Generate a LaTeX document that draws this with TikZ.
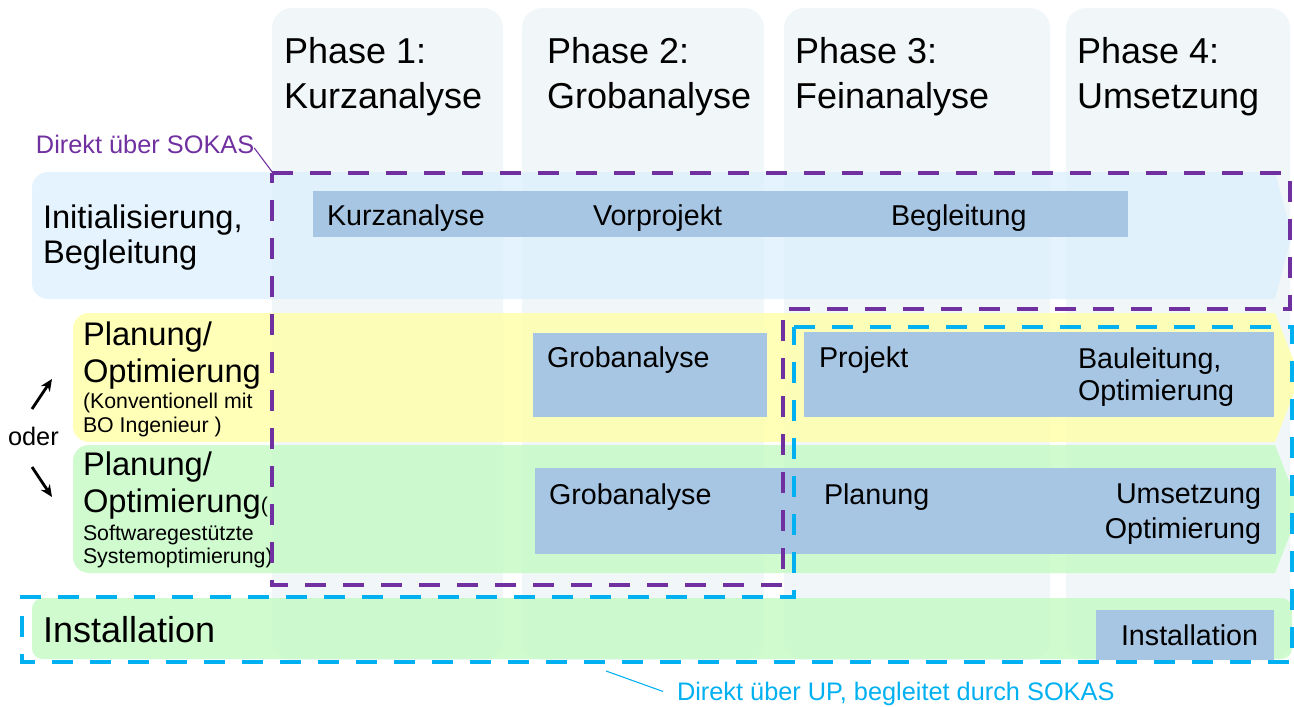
\documentclass[tikz,border=0pt]{standalone}
\usepackage{fontspec}
\setmainfont{Liberation Sans}
\usetikzlibrary{arrows.meta}
\definecolor{colfill}{RGB}{241,247,248}
\definecolor{rowblue}{RGB}{222,240,252}
\definecolor{rowyellow}{RGB}{255,255,168}
\definecolor{rowgreen}{RGB}{196,250,196}
\definecolor{boxblue}{RGB}{167,198,228}
\definecolor{sokas}{RGB}{112,48,160}
\definecolor{upcyan}{RGB}{0,176,240}
\begin{document}
\begin{tikzpicture}[x=0.75pt,y=-0.75pt,
  phasecol/.style={fill=colfill, draw=none, rounded corners=15},
  rowshape/.style={draw=none, fill opacity=0.82},
  bluebox/.style={fill=boxblue, draw=none},
  txt/.style={anchor=base west, inner sep=0, outer sep=0},
  phasetxt/.style={txt, font=\fontsize{27}{32}\selectfont},
  rowtxt/.style={txt, font=\fontsize{24.5}{29}\selectfont},
  bigtxt/.style={txt, font=\fontsize{27}{32}\selectfont},
  boxtxt/.style={txt, font=\fontsize{21.5}{26}\selectfont},
  smalltxt/.style={txt, font=\fontsize{16}{19}\selectfont},
  labeltxt/.style={txt, font=\fontsize{19}{22}\selectfont},
  dashbox/.style={line width=3.4pt, dash pattern=on 15.75pt off 12.75pt},
  oderarrow/.style={line width=2.1pt, -{Stealth[length=9pt,width=8pt]}},
]
\useasboundingbox (0,0) rectangle (1294,706);

% phase columns
\fill[phasecol] (272,8) rectangle (503,660);
\fill[phasecol] (522,8) rectangle (764,660);
\fill[phasecol] (784,8) rectangle (1050,660);
\fill[phasecol] (1066,8) rectangle (1290,660);

% rows
\fill[rowshape, rowblue] (1275,172) -- (1292,235) -- (1275,299)
   [rounded corners=12] -- (32,299) -- (32,172) [sharp corners] -- cycle;
\fill[rowshape, rowyellow] (1275,313) -- (1300,377) -- (1275,442)
   [rounded corners=12] -- (73,442) -- (73,313) [sharp corners] -- cycle;
\fill[rowshape, rowgreen] (1275,445) -- (1300,509) -- (1275,573)
   [rounded corners=12] -- (73,573) -- (73,445) [sharp corners] -- cycle;
\fill[rowshape, rowgreen, rounded corners=8] (32,598) rectangle (1292,659);

% blue boxes
\fill[bluebox] (313,191) rectangle (1128,237);
\fill[bluebox] (533,333) rectangle (767,417);
\fill[bluebox] (804,332) rectangle (1274,417);
\fill[bluebox] (535,468) rectangle (785,554);
\fill[bluebox] (785,468) rectangle (1276,554);
\fill[bluebox] (1096,610) rectangle (1274,660);

% phase headers
\node[phasetxt] (p1a) at (284,64) {Phase 1:};
\node[phasetxt] (p1b) at (284,109) {Kurzanalyse};
\node[phasetxt] (p2a) at (547,64) {Phase 2:};
\node[phasetxt] (p2b) at (547,109) {Grobanalyse};
\node[phasetxt] (p3a) at (795,64) {Phase 3:};
\node[phasetxt] (p3b) at (795,109) {Feinanalyse};
\node[phasetxt] (p4a) at (1077,64) {Phase 4:};
\node[phasetxt] (p4b) at (1077,109) {Umsetzung};

% row labels
\node[rowtxt] (r1a) at (43,228) {Initialisierung,};
\node[rowtxt] (r1b) at (43,263) {Begleitung};
\node[rowtxt] (r2a) at (83,345) {Planung/};
\node[rowtxt] (r2b) at (83,382) {Optimierung};
\node[smalltxt] (r2c) at (83,408) {(Konventionell mit};
\node[smalltxt] (r2d) at (83,432) {BO Ingenieur )};
\node[rowtxt] (r3a) at (83,475) {Planung/};
\node[rowtxt] (r3b) at (83,512) {Optimierung{\fontsize{16}{19}\selectfont(}};
\node[smalltxt] (r3c) at (83,540) {Softwaregestützte};
\node[smalltxt] (r3d) at (83,563) {Systemoptimierung)};
\node[bigtxt] (r4a) at (43,642) {Installation};

% oder + arrows
\node[labeltxt] (oder) at (8,445) {oder};
\coordinate (ua) at (32,409);
\coordinate (ub) at (52,379);
\coordinate (da) at (32,467);
\coordinate (db) at (52,497);
\draw[oderarrow] (ua) -- (ub);
\draw[oderarrow] (da) -- (db);

% box texts
\node[boxtxt] (b1) at (327,225) {Kurzanalyse};
\node[boxtxt] (b2) at (593,225) {Vorprojekt};
\node[boxtxt] (b3) at (891,225) {Begleitung};
\node[boxtxt] (b4) at (547,367) {Grobanalyse};
\node[boxtxt] (b5) at (819,367) {Projekt};
\node[boxtxt] (b6) at (1078,368) {Bauleitung,};
\node[boxtxt] (b7) at (1078,400) {Optimierung};
\node[boxtxt] (b8) at (549,504) {Grobanalyse};
\node[boxtxt] (b9) at (824,504) {Planung};
\node[boxtxt, anchor=base east] (b10) at (1261,503) {Umsetzung};
\node[boxtxt, anchor=base east] (b11) at (1261,538) {Optimierung};
\node[boxtxt] (b12) at (1121,645) {Installation};

% dashed groups
\draw[dashbox, sokas] (272,173) -- (1290,173) -- (1290,309) -- (783,309)
   -- (783,585) -- (272,585) -- cycle;
\draw[dashbox, upcyan] (794,327) -- (1292,327) -- (1292,662) -- (22,662)
   -- (22,597) -- (794,597) -- cycle;

% labels
\node[labeltxt, text=sokas] (lsokas) at (36,153) {Direkt über SOKAS};
\coordinate (lsokasend) at (273,173);
\draw[sokas, line width=0.8pt] (lsokas.east) ++(0,4) -- (lsokasend);
\node[labeltxt, text=upcyan] (lup) at (677,700) {Direkt über UP, begleitet durch SOKAS};
\coordinate (lupend) at (606,671);
\draw[upcyan, line width=0.8pt] (lup.west) ++(-14,-2) -- (lupend);
\end{tikzpicture}
\end{document}
